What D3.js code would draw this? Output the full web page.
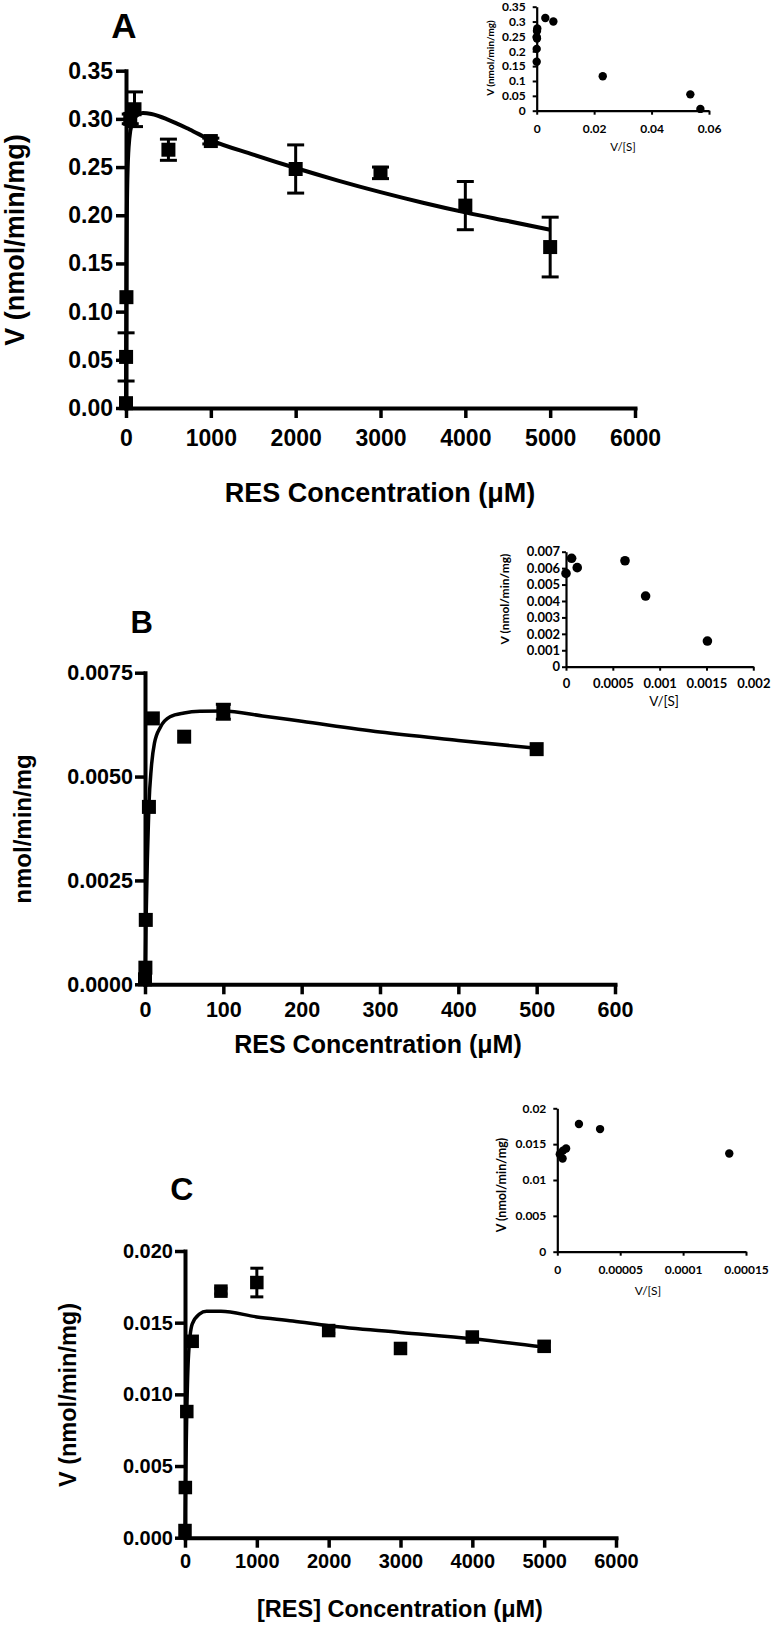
<!DOCTYPE html>
<html><head><meta charset="utf-8">
<script src="https://cdn.jsdelivr.net/npm/d3@7"></script>
<style>
body{margin:0;background:#fff}
svg{display:block}
.main text{font-family:"Liberation Sans",Arial,sans-serif;font-weight:bold;fill:#000}
.ins text{font-family:Lato,"Open Sans",sans-serif;fill:#000}
</style></head><body>
<svg id="c" width="771" height="1625"></svg>
<script>
// ---------------- DATA ----------------
// Panel A (main): substrate concentration (µM), velocity, SEM
const aConc  = [0.1, 1, 5, 50, 100, 500, 1000, 2000, 3000, 4000, 5000];
const aVel   = [0.005, 0.053, 0.115, 0.300, 0.310, 0.268, 0.277, 0.248, 0.244, 0.210, 0.167];
const aErr   = [0.000, 0.025, 0.000, 0.005, 0.018, 0.011, 0.003, 0.025, 0.006, 0.025, 0.031];
const aFitX  = [0, 1, 5, 10, 20, 40, 70, 120, 200, 300, 500, 750, 1000, 1500, 2000, 2500, 3000, 3500, 4000, 4500, 5000];
const aFitY  = [0, 0.04, 0.14, 0.20, 0.25, 0.28, 0.295, 0.303, 0.306, 0.305, 0.299, 0.289, 0.278, 0.263, 0.249, 0.236, 0.224, 0.213, 0.203, 0.194, 0.185];
const aXTicks = [0, 1000, 2000, 3000, 4000, 5000, 6000];
const aYTicks = [0, 0.05, 0.10, 0.15, 0.20, 0.25, 0.30, 0.35];
// Panel A inset (Eadie-Hofstee)
const aInsX = [0.003, 0.0058, 0.0002, 0.0001, 0.0000, 0.0001, 0.0000, 0.0000, 0.023, 0.0535, 0.057];
const aInsY = [0.312, 0.300, 0.277, 0.268, 0.248, 0.243, 0.208, 0.165, 0.116, 0.055, 0.006];
const aInsXTicks = [0, 0.02, 0.04, 0.06];
const aInsXLabels = ["0", "0.02", "0.04", "0.06"];
const aInsYTicks = [0, 0.05, 0.1, 0.15, 0.2, 0.25, 0.3, 0.35];
const aInsYLabels = ["0", "0.05", "0.1", "0.15", "0.2", "0.25", "0.3", "0.35"];

// Panel B (main)
const bConc = [0, 0.5, 1, 5, 10, 50, 100, 500];
const bVel  = [0.00012, 0.0004, 0.00155, 0.00427, 0.0064, 0.00596, 0.00656, 0.00566];
const bErr  = [0, 0, 0, 0, 0, 0, 0.00018, 0];
const bFitX = [0, 1, 3, 5, 8, 12, 20, 32, 50, 70, 100, 150, 200, 300, 400, 500];
const bFitY = [0, 0.0012, 0.003, 0.0043, 0.0052, 0.0058, 0.0062, 0.00644, 0.00653, 0.00657, 0.00658, 0.00646, 0.00633, 0.00607, 0.00587, 0.00568];
const bXTicks = [0, 100, 200, 300, 400, 500, 600];
const bYTicks = [0, 0.0025, 0.0050, 0.0075];
// Panel B inset
const bInsX = [0.0000, 0.00006, 0.00012, 0.00063, 0.00085, 0.00151];
const bInsY = [0.00568, 0.0066, 0.00603, 0.00645, 0.0043, 0.00156];
const bInsXTicks = [0, 0.0005, 0.001, 0.0015, 0.002];
const bInsXLabels = ["0", "0.0005", "0.001", "0.0015", "0.002"];
const bInsYTicks = [0, 0.001, 0.002, 0.003, 0.004, 0.005, 0.006, 0.007];
const bInsYLabels = ["0", "0.001", "0.002", "0.003", "0.004", "0.005", "0.006", "0.007"];

// Panel C (main)
const cConc = [0, 5, 25, 100, 500, 1000, 2000, 3000, 4000, 5000];
const cVel  = [0.0005, 0.0035, 0.0088, 0.0137, 0.0172, 0.0178, 0.01445, 0.0132, 0.0140, 0.01335];
const cErr  = [0, 0, 0, 0, 0.0002, 0.001, 0.0002, 0.0003, 0.0002, 0.0003];
const cFitX = [0, 5, 10, 25, 50, 100, 200, 300, 500, 1000, 1500, 2000, 3000, 4000, 5000];
const cFitY = [0, 0.0025, 0.0045, 0.0088, 0.0128, 0.0149, 0.0156, 0.0158, 0.0158, 0.0154, 0.01512, 0.01478, 0.01432, 0.01388, 0.0133];
const cXTicks = [0, 1000, 2000, 3000, 4000, 5000, 6000];
const cYTicks = [0, 0.005, 0.010, 0.015, 0.020];
// Panel C inset
const cInsX = [0.000002, 0.0000045, 0.0000042, 0.000007, 0.0000172, 0.000034, 0.0001367];
const cInsY = [0.0136, 0.0141, 0.0130, 0.0144, 0.0178, 0.0171, 0.0137];
const cInsXTicks = [0, 0.00005, 0.0001, 0.00015];
const cInsXLabels = ["0", "0.00005", "0.0001", "0.00015"];
const cInsYTicks = [0, 0.005, 0.01, 0.015, 0.02];
const cInsYLabels = ["0", "0.005", "0.01", "0.015", "0.02"];

// ---------------- DRAWING ----------------
const svg = d3.select("#c");

function mainPanel(o){
  const g = svg.append("g").attr("class","main");
  const x = d3.scaleLinear().domain(o.xDom).range(o.xR);
  const y = d3.scaleLinear().domain(o.yDom).range(o.yR);
  // curve
  const line = d3.line().x(d=>x(d[0])).y(d=>y(d[1])).curve(d3.curveMonotoneX);
  g.append("path").datum(o.fitX.map((v,i)=>[v,o.fitY[i]]))
    .attr("d",line).attr("fill","none").attr("stroke","#000").attr("stroke-width",o.lw);
  // error bars
  const pts = o.cx.map((v,i)=>({x:v,y:o.vy[i],e:o.err[i]}));
  const eb = g.append("g").attr("stroke","#000").attr("stroke-width",3);
  pts.filter(d=>d.e>0).forEach(d=>{
    eb.append("line").attr("x1",x(d.x)).attr("x2",x(d.x)).attr("y1",y(d.y-d.e)).attr("y2",y(d.y+d.e));
    [d.y-d.e,d.y+d.e].forEach(v=>eb.append("line").attr("x1",x(d.x)-o.cap/2).attr("x2",x(d.x)+o.cap/2).attr("y1",y(v)).attr("y2",y(v)));
  });
  // squares
  g.append("g").selectAll("rect").data(pts).join("rect")
    .attr("x",d=>x(d.x)-o.sq/2).attr("y",d=>y(d.y)-o.sq/2)
    .attr("width",o.sq).attr("height",o.sq).attr("fill","#000");
  // axes
  const ax = g.append("g").attr("transform",`translate(0,${o.yR[0]})`)
    .call(d3.axisBottom(x).tickValues(o.xTicks).tickFormat(d3.format("d")).tickSize(10).tickSizeOuter(0).tickPadding(o.xPad));
  const ay = g.append("g").attr("transform",`translate(${o.xR[0]},0)`)
    .call(d3.axisLeft(y).tickValues(o.yTicks).tickFormat(d3.format(o.yFmt)).tickSize(10).tickSizeOuter(0).tickPadding(o.yPad));
  [ax,ay].forEach(a=>{
    a.select(".domain").attr("stroke-width",4).attr("stroke-linecap","square");
    a.selectAll(".tick line").attr("stroke-width",3.5);
    a.selectAll("text").attr("font-size",o.tf).attr("font-family",'"Liberation Sans",Arial,sans-serif').attr("font-weight","bold");
  });
  // titles
  g.append("text").attr("x",o.xtX).attr("y",o.xtY).attr("text-anchor","middle").attr("font-size",o.xtF).text(o.xTitle);
  g.append("text").attr("transform",`translate(${o.ytX},${o.ytY}) rotate(-90)`).attr("text-anchor","middle").attr("font-size",o.ytF).text(o.yTitle);
  g.append("text").attr("x",o.lX).attr("y",o.lY).attr("text-anchor","middle").attr("font-size",o.lF).text(o.letter);
}

function insetPanel(o){
  const g = svg.append("g").attr("class","ins");
  const x = d3.scaleLinear().domain(o.xDom).range(o.xR);
  const y = d3.scaleLinear().domain(o.yDom).range(o.yR);
  const ax = g.append("g").attr("transform",`translate(0,${o.yR[0]})`)
    .call(d3.axisBottom(x).tickValues(o.xTicks).tickFormat((d,i)=>o.xLabels[i]).tickSize(4).tickSizeOuter(0).tickPadding(o.xPad));
  const ay = g.append("g").attr("transform",`translate(${o.xR[0]},0)`)
    .call(d3.axisLeft(y).tickValues(o.yTicks).tickFormat((d,i)=>o.yLabels[i]).tickSize(4).tickSizeOuter(0).tickPadding(o.yPad));
  [ax,ay].forEach(a=>{
    a.select(".domain").attr("stroke-width",2.2);
    a.selectAll(".tick line").attr("stroke-width",2);
    a.selectAll("text").attr("font-size",o.tf).attr("font-family",'Lato,"Open Sans",sans-serif').attr("font-weight","bold");
  });
  g.append("g").selectAll("circle").data(o.px.map((v,i)=>[v,o.py[i]])).join("circle")
    .attr("cx",d=>x(d[0])).attr("cy",d=>y(d[1])).attr("r",o.r).attr("fill","#000");
  g.append("text").attr("x",o.xtX).attr("y",o.xtY).attr("text-anchor","middle").attr("font-size",o.xtF).text("V/[S]");
  g.append("text").attr("transform",`translate(${o.ytX},${o.ytY}) rotate(-90)`).attr("text-anchor","middle")
    .attr("font-size",o.ytF).attr("font-weight","bold").text("V (nmol/min/mg)");
}

// Panel A
mainPanel({xDom:[0,6000],xR:[126,635],yDom:[0,0.35],yR:[408,70.7],fitX:aFitX,fitY:aFitY,cx:aConc,vy:aVel,err:aErr,
  xTicks:aXTicks,yTicks:aYTicks,yFmt:".2f",tf:23,xPad:12,yPad:3,lw:4,sq:14,cap:17,
  xTitle:"RES Concentration (\u03bcM)",xtX:380,xtY:502,xtF:27,
  yTitle:"V (nmol/min/mg)",ytX:24,ytY:240,ytF:27,letter:"A",lX:124,lY:38,lF:35});
insetPanel({xDom:[0,0.06],xR:[536.7,709],yDom:[0,0.35],yR:[110.7,6.7],xTicks:aInsXTicks,xLabels:aInsXLabels,
  yTicks:aInsYTicks,yLabels:aInsYLabels,tf:12,xPad:10,yPad:7,px:aInsX,py:aInsY,r:4.2,
  xtX:623,xtY:150.5,xtF:11.5,ytX:494,ytY:58,ytF:10});

// Panel B
mainPanel({xDom:[0,600],xR:[145,615],yDom:[0,0.0075],yR:[984.3,672.7],fitX:bFitX,fitY:bFitY,cx:bConc,vy:bVel,err:bErr,
  xTicks:bXTicks,yTicks:bYTicks,yFmt:".4f",tf:21.5,xPad:7,yPad:2,lw:3.5,sq:14,cap:15,
  xTitle:"RES Concentration (\u03bcM)",xtX:378,xtY:1053,xtF:25,
  yTitle:"nmol/min/mg",ytX:31,ytY:829,ytF:24,letter:"B",lX:141.7,lY:633,lF:31});
insetPanel({xDom:[0,0.002],xR:[566,753.3],yDom:[0,0.007],yR:[666.7,551.7],xTicks:bInsXTicks,xLabels:bInsXLabels,
  yTicks:bInsYTicks,yLabels:bInsYLabels,tf:13,xPad:8.5,yPad:2,px:bInsX,py:bInsY,r:4.8,
  xtX:664,xtY:706,xtF:13.5,ytX:509,ytY:599,ytF:12});

// Panel C
mainPanel({xDom:[0,6000],xR:[185,616],yDom:[0,0.020],yR:[1537.7,1251],fitX:cFitX,fitY:cFitY,cx:cConc,vy:cVel,err:cErr,
  xTicks:cXTicks,yTicks:cYTicks,yFmt:".3f",tf:20,xPad:6.5,yPad:2,lw:3.5,sq:13.5,cap:13,
  xTitle:"[RES] Concentration (\u03bcM)",xtX:400,xtY:1617,xtF:23.5,
  yTitle:"V (nmol/min/mg)",ytX:76,ytY:1395,ytF:23.5,letter:"C",lX:181.7,lY:1200,lF:32});
insetPanel({xDom:[0,0.00015],xR:[557.3,746],yDom:[0,0.02],yR:[1251.7,1108.3],xTicks:cInsXTicks,xLabels:cInsXLabels,
  yTicks:cInsYTicks,yLabels:cInsYLabels,tf:12,xPad:10,yPad:7,px:cInsX,py:cInsY,r:4.2,
  xtX:648,xtY:1294.5,xtF:12,ytX:506,ytY:1185,ytF:12.5});
</script>
</body></html>
